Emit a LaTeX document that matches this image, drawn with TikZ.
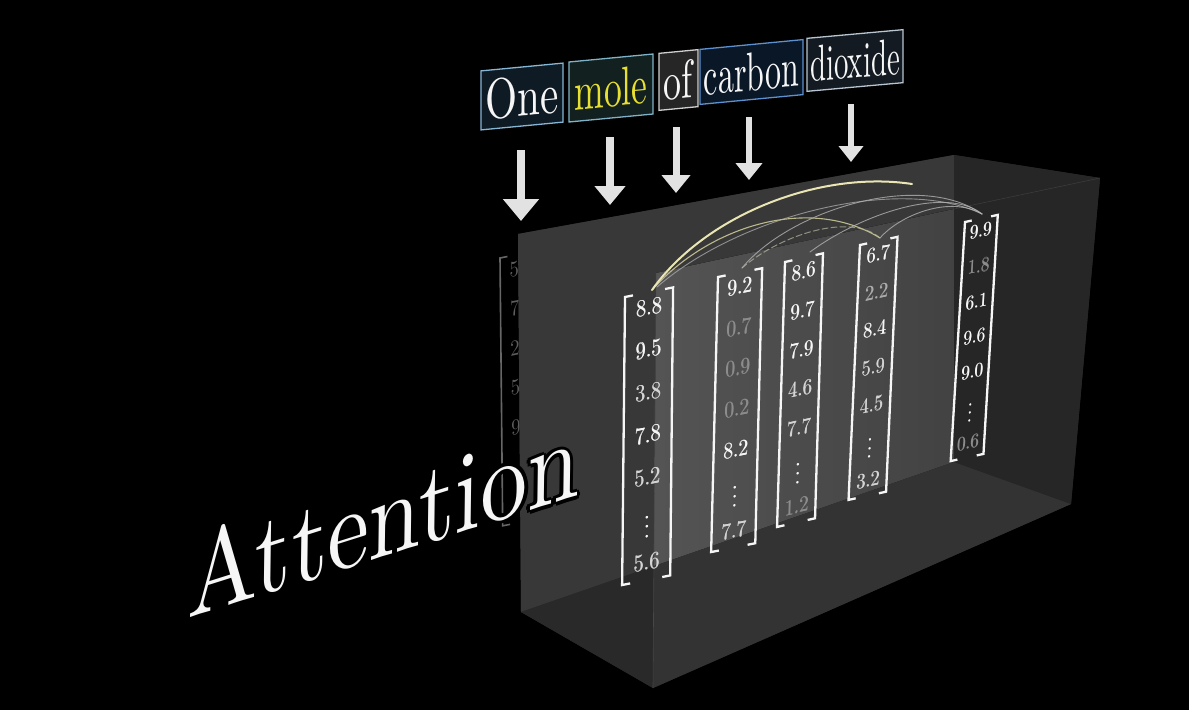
\documentclass[tikz,border=0pt]{standalone}
\usepackage{graphicx}
\usetikzlibrary{arrows.meta}
\definecolor{hi}{HTML}{F6F6F6}
\definecolor{md}{HTML}{D4D4D4}
\definecolor{lo}{HTML}{8C8C8C}
\definecolor{loo}{HTML}{ABABAB}
\definecolor{fOne}{HTML}{0E1B25}\definecolor{bOne}{HTML}{86B6D6}
\definecolor{fMole}{HTML}{12201F}\definecolor{bMole}{HTML}{7FB2C6}
\definecolor{tMole}{HTML}{E8E030}
\definecolor{fOf}{HTML}{262626}\definecolor{bOf}{HTML}{CFCFCF}
\definecolor{fCarbon}{HTML}{0A1727}\definecolor{bCarbon}{HTML}{5C90CF}
\definecolor{fDiox}{HTML}{131A22}\definecolor{bDiox}{HTML}{B8C4D0}
\definecolor{arrowc}{HTML}{E2E2E2}
\tikzset{
  brk/.style={draw=hi, line width=2.3pt, line join=miter},
  ent/.style={inner sep=0pt, font=\fontsize{10}{10}\selectfont},
  wbox/.style={line width=1.3pt, inner sep=0pt, font=\fontsize{10}{10}\selectfont, text=hi},
  downarrow/.style={draw=arrowc, line width=#1},
  arcA/.style={draw=#1, line cap=round},
}
\newcommand{\vecdraw}[8]{%
  \begin{scope}[shift={(#2,#3)}, xslant=#6, yslant=#7, scale=#4, transform shape]
    \draw[brk] (8,0) -- (0,0) -- (0,288) -- (8,288);
    \draw[brk] (#5-8,0) -- (#5,0) -- (#5,288) -- (#5-8,288);
    \foreach \e/\c [count=\i from 0] in {#8} {
      \node[ent, text=\c] (#1-\i) at (#5/2, 15+42.5*\i) {\scalebox{2.02}[2.4]{\e}};
      \node[ent, text=\c] (#1-\i b) at (#5/2+0.45, 15+42.5*\i) {\scalebox{2.02}[2.4]{\e}};
    }
  \end{scope}}
\newcommand{\attn}[4]{%
  \begin{scope}[shift={(187+#2,619+#3)}, rotate=17.5, xslant=0.33, transform shape]
    \node[anchor=base west, inner sep=0pt, text=#1, font=\fontsize{10}{10}\selectfont] (#4) at (0,0) {\scalebox{9.8}[11]{Attention}};
  \end{scope}}
\begin{document}
\begin{tikzpicture}[x=1pt, y=-1pt]
\fill[black] (0,0) rectangle (1189,710);
\useasboundingbox (0,0) rectangle (1189,710);

% faded vector behind the box
\begin{scope}[shift={(500,258)}, xslant=-0.01, yslant=0.2, scale=0.93, transform shape]
  \draw[draw=black!60, line width=1.6pt] (8,0) -- (0,0) -- (0,288) -- (8,288);
  \foreach \e [count=\i from 0] in {5,7,2,5,9} {
    \node[ent, anchor=west, text=black!64] (v0-\i) at (10, 15+42.5*\i) {\scalebox{2.02}[2.4]{\e}};
  }
\end{scope}

% box corners
\coordinate (Btl) at (518,234);
\coordinate (Btr) at (954,155);
\coordinate (Ftr) at (1100,178);
\coordinate (Fbr) at (1071,504);
\coordinate (Fbl) at (653,688);
\coordinate (Bbl) at (521,612);
\coordinate (Ftl) at (656,273);
\coordinate (Bbr) at (954,462);
\coordinate (Pm) at (954,209);
\coordinate (Qm) at (654,566);

\fill[black!83] (Btl) -- (Btr) -- (Ftr) -- (Fbr) -- (Fbl) -- (Bbl) -- cycle;
\fill[black!78] (Btl) -- (Btr) -- (Bbr) -- (Bbl) -- cycle;
\fill[left color=black!67, right color=black!74] (Ftl) -- (Pm) -- (Bbr) -- (Qm) -- cycle;
\fill[black!80] (Qm) -- (Bbr) -- (Fbr) -- (Fbl) -- cycle;
\fill[black!84] (Bbl) -- (Qm) -- (Fbl) -- cycle;
\fill[black!85] (Btr) -- (Ftr) -- (Fbr) -- (Bbr) -- cycle;
\draw[black!72, line width=0.6pt] (Ftl) -- (Fbl);
\draw[black!77, line width=0.6pt] (Pm) -- (Ftr);

% vectors
\vecdraw{v1}{625}{297}{1}{48}{0.01}{0.2}{8.8/hi,9.5/hi,3.8/md,7.8/hi,5.2/md,\vdots/hi,5.6/md}
\vecdraw{v2}{718}{277}{0.955}{46}{0.025}{0.2}{9.2/hi,0.7/lo,0.9/lo,0.2/lo,8.2/hi,\vdots/hi,7.7/md}
\vecdraw{v3}{785}{262}{0.92}{41}{0.03}{0.23}{8.6/hi,9.7/hi,7.9/hi,4.6/md,7.7/md,\vdots/hi,1.2/lo}
\vecdraw{v4}{860}{245}{0.885}{42}{0.045}{0.22}{6.7/hi,2.2/loo,8.4/hi,5.9/md,4.5/md,\vdots/hi,3.2/md}
\vecdraw{v5}{965}{222}{0.83}{39}{0.06}{0.22}{9.9/hi,1.8/lo,6.1/hi,9.6/hi,9.0/hi,\vdots/hi,0.6/lo}

% attention arcs
\coordinate (t1) at (652,290);
\coordinate (t1b) at (657,287);
\coordinate (t2) at (742,268);
\coordinate (t3) at (810,252);
\coordinate (t4) at (880,238);
\coordinate (t5) at (982,214);
\coordinate (e1) at (912,184);
\draw[arcA={black!50!yellow!30!white}, line width=1pt, opacity=0.55, dash pattern=on 6pt off 3pt] (t2) .. controls (780,235) and (850,212) .. (t4);
\draw[arcA={black!35}, line width=0.9pt, opacity=0.8] (t1b) .. controls (740,215) and (900,175) .. (t5);
\draw[arcA={black!30}, line width=0.9pt, opacity=0.8] (t2) .. controls (790,210) and (920,170) .. (t5);
\draw[arcA={black!30}, line width=0.9pt, opacity=0.8] (t3) .. controls (860,215) and (945,185) .. (t5);
\draw[arcA={black!30}, line width=0.9pt, opacity=0.8] (t4) .. controls (900,215) and (950,195) .. (t5);
\draw[arcA={yellow!45!black!55!white}, line width=1.1pt] (t1) .. controls (710,225) and (810,195) .. (t4);
\draw[arcA={yellow!25!white!90!black}, line width=2pt] (t1) .. controls (705,215) and (820,170) .. (e1);

% arrows
\coordinate (a1s) at (521,150); \coordinate (a1e) at (521,221);
\coordinate (a2s) at (610,137); \coordinate (a2e) at (610,205);
\coordinate (a3s) at (676,127); \coordinate (a3e) at (676,193);
\coordinate (a4s) at (749,117); \coordinate (a4e) at (749,180);
\coordinate (a5s) at (851,104); \coordinate (a5e) at (851,162);
\draw[downarrow=8pt, -{Triangle[width=35pt,length=22pt]}] (a1s) -- (a1e);
\draw[downarrow=7.5pt, -{Triangle[width=30pt,length=19pt]}] (a2s) -- (a2e);
\draw[downarrow=7pt, -{Triangle[width=28pt,length=18pt]}] (a3s) -- (a3e);
\draw[downarrow=6.5pt, -{Triangle[width=26pt,length=17pt]}] (a4s) -- (a4e);
\draw[downarrow=6pt, -{Triangle[width=24pt,length=16pt]}] (a5s) -- (a5e);

% words
\begin{scope}[shift={(522,96.5)}, yslant=0.095, transform shape]
  \node[wbox, fill=fOne, draw=bOne, minimum width=82pt, minimum height=59pt] (wOne) at (0,0) {\scalebox{4.12}[5.68]{One}};
\end{scope}
\begin{scope}[shift={(611,88)}, yslant=0.095, transform shape]
  \node[wbox, fill=fMole, draw=bMole, text=tMole, minimum width=84pt, minimum height=60pt] (wMole) at (0,0) {\scalebox{3.56}[5.48]{mole}};
\end{scope}
\begin{scope}[shift={(678.5,80)}, yslant=0.095, transform shape]
  \node[wbox, fill=fOf, draw=bOf, minimum width=39pt, minimum height=57pt] (wOf) at (0,0) {\scalebox{3.6}[5.4]{of}};
\end{scope}
\begin{scope}[shift={(751.5,72)}, yslant=0.095, transform shape]
  \node[wbox, fill=fCarbon, draw=bCarbon, minimum width=103pt, minimum height=55pt] (wCarbon) at (0,0) {\scalebox{3.2}[5.5]{carbon}};
\end{scope}
\begin{scope}[shift={(855,60.5)}, yslant=0.09, transform shape]
  \node[wbox, fill=fDiox, draw=bDiox, minimum width=96pt, minimum height=53pt] (wDiox) at (0,0) {\scalebox{2.88}[5.1]{dioxide}};
\end{scope}

% Attention
\attn{black}{3.5}{0}{s1}
\attn{black}{-3.5}{0}{s2}
\attn{black}{0}{3.5}{s3}
\attn{black}{0}{-3.5}{s4}
\attn{black}{2.5}{2.5}{s5}
\attn{black}{-2.5}{2.5}{s6}
\attn{black}{2.5}{-2.5}{s7}
\attn{black}{-2.5}{-2.5}{s8}
\attn{hi}{0}{0}{attn}
\end{tikzpicture}
\end{document}
